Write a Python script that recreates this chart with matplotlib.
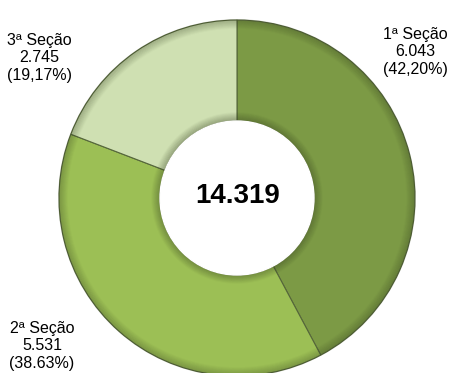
import matplotlib
matplotlib.use("agg")
from matplotlib import pyplot as plt
from matplotlib.patches import Circle
import numpy as np

sections = ["1ª Seção", "2ª Seção", "3ª Seção"]
counts = [6043, 5531, 2745]
count_labels = ["6.043", "5.531", "2.745"]
pct_labels = ["(42,20%)", "(38.63%)", "(19,17%)"]
total_label = "14.319"
colors = ["#7c9a45", "#9cbf55", "#cfe0b2"]

W, H = 451, 373
fig = plt.figure(figsize=(W / 100, H / 100), dpi=100)
ax = fig.add_axes([0, 0, 1, 1])

cx, cy = 237, H - 198
radius = 178
hole = 77

ax.pie(
    counts,
    colors=colors,
    startangle=90,
    counterclock=False,
    center=(cx, cy),
    radius=radius,
    wedgeprops=dict(width=radius - hole, edgecolor="#55663a", linewidth=0.8),
    frame=True,
)
ax.set_xlim(0, W)
ax.set_ylim(0, H)
ax.set_aspect("equal")
ax.axis("off")

# soft shading at the inner rim and the outer edge
for i in range(9):
    ax.add_patch(Circle((cx, cy), hole + i, fill=False, lw=1.2,
                        color="#2f3a1c", alpha=0.25 * (1 - i / 9)))
    ax.add_patch(Circle((cx, cy), radius - i, fill=False, lw=1.2,
                        color="#2f3a1c", alpha=0.2 * (1 - i / 9)))
ax.add_patch(Circle((cx, cy), hole, color="white", zorder=5))

font = ["Liberation Sans Narrow", "Liberation Sans", "DejaVu Sans"]
ax.text(cx + 1, cy + 2, total_label, ha="center", va="center",
        fontsize=20, fontweight="bold", family=["Liberation Sans", "DejaVu Sans"], zorder=6)

label_pos = [(415, 52), (42, 346), (39, 58)]
for name, c, p, (x, y) in zip(sections, count_labels, pct_labels, label_pos):
    ax.text(x, H - y, f"{name}\n{c}\n{p}", ha="center", va="center",
            fontsize=11.5, family=font, linespacing=1.2)

fig.savefig("out.png", dpi=100)
